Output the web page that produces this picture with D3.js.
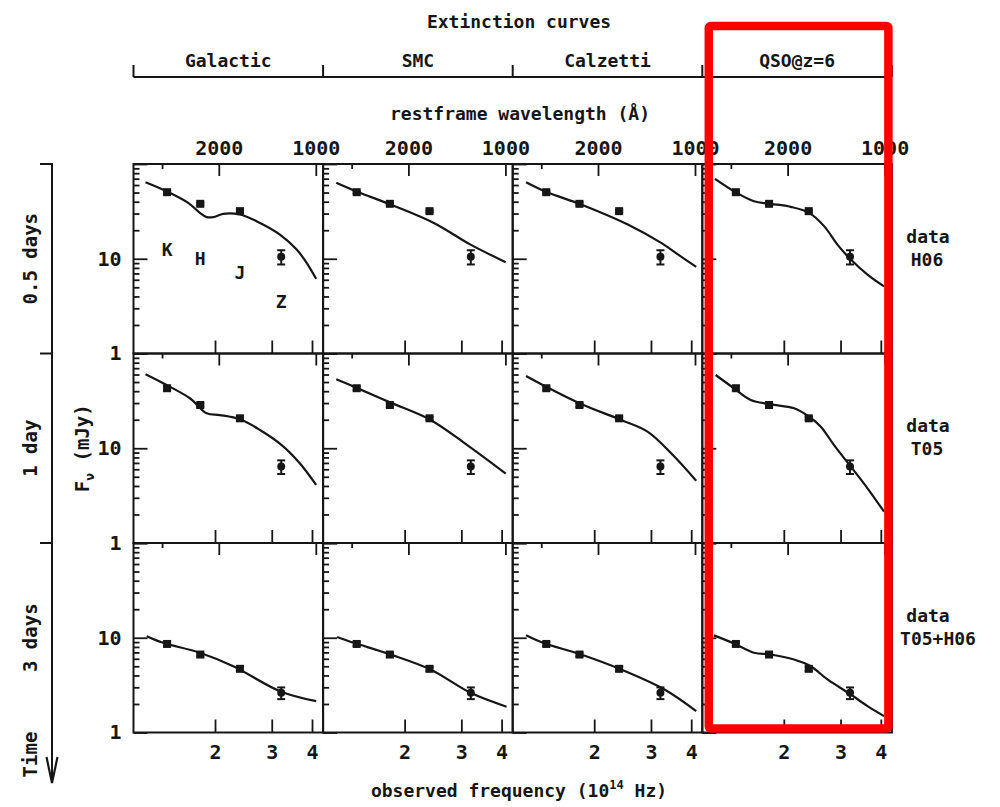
<!DOCTYPE html>
<html>
<head>
<meta charset="utf-8">
<script src="https://cdn.jsdelivr.net/npm/d3@7"></script>
<style>
  body { margin: 0; background: #fff; }
  svg text { font-family: 'DejaVu Sans Mono', monospace; font-weight: bold; fill: #161616; }
  .label { font-size: 18px; }
  .tick text { font-size: 20px; }
  .axis line { stroke: #161616; stroke-width: 1.8px; }
  .axis .domain { display: none; }
</style>
</head>
<body>
<div id="chart"></div>
<script>
// columns / rows of the grid
const extinctionLaws = ['Galactic', 'SMC', 'Calzetti', 'QSO@z=6'];
const epochs = ['0.5 days', '1 day', '3 days'];
const dataSets = ['H06', 'T05', 'T05+H06'];

// photometry (observed frequency in 1e14 Hz, flux in mJy)
const bands = ['K', 'H', 'J', 'Z'];
const bandFreq = [1.42, 1.80, 2.39, 3.21];
const bandLabelFlux = [12, 9.6, 6.9, 3.4];
const fluxH06 = [50.4, 38, 31.8, 10.5];
const errH06 = [1.5, 1.2, 1.0, 1.8];
const fluxT05 = [43, 28.6, 20.7, 6.4];
const errT05 = [2.0, 1.2, 0.8, 1.05];
const fluxT05H06 = [8.6, 6.65, 4.7, 2.62];
const errT05H06 = [0.4, 0.3, 0.25, 0.37];

// model curves [freq, flux]
const galactic05 = [[1.217, 64.3], [1.415, 51.6], [1.651, 38.9], [1.795, 30.5], [1.884, 27.5], [1.975, 27.5], [2.121, 29.8], [2.39, 29.3], [2.69, 24.9], [3.18, 18.0], [3.585, 12.5], [3.85, 9.06], [4.12, 6.14]];
const smc05 = [[1.227, 63.4], [1.426, 50.9], [1.809, 37.4], [2.464, 23.9], [3.204, 14.1], [4.12, 9.2]];
const calzetti05 = [[1.229, 64.3], [1.418, 50.9], [1.821, 37.4], [2.543, 23.0], [3.228, 14.7], [3.637, 11.1], [4.145, 8.2]];
const qso05 = [[1.223, 69.8], [1.418, 50.4], [1.616, 40.5], [1.821, 38.0], [2.101, 35.3], [2.396, 30.5], [2.667, 22.1], [2.934, 14.1], [3.228, 9.8], [3.637, 6.8], [4.095, 5.1]];

const galactic1 = [[1.217, 60.3], [1.381, 48.5], [1.671, 33.7], [1.884, 23.4], [2.071, 22.4], [2.39, 20.2], [2.758, 15.6], [3.221, 10.8], [3.671, 6.9], [4.12, 4.1]];
const smc1 = [[1.227, 53.4], [1.391, 44.7], [1.809, 30.3], [2.407, 19.9], [3.13, 10.8], [4.12, 5.4]];
const calzetti1 = [[1.229, 57.9], [1.385, 46.5], [1.821, 29.3], [2.424, 19.9], [2.934, 14.9], [3.466, 8.85], [4.145, 4.55]];
const qso1 = [[1.229, 59.3], [1.401, 42.9], [1.579, 32.3], [1.821, 29.1], [2.152, 26.4], [2.396, 21.5], [2.605, 16.9], [2.864, 10.8], [3.228, 6.4], [3.637, 3.78], [4.095, 2.14]];

const galactic3 = [[1.227, 10.4], [1.381, 8.85], [1.795, 6.94], [2.278, 5.0], [3.18, 2.73], [4.12, 2.14]];
const smc3 = [[1.235, 10.2], [1.391, 8.85], [1.809, 6.65], [2.407, 4.62], [3.204, 2.62], [4.145, 1.87]];
const calzetti3 = [[1.229, 10.6], [1.385, 8.85], [1.821, 6.65], [2.424, 4.62], [3.305, 2.84], [4.145, 1.68]];
const qso3 = [[1.214, 10.6], [1.401, 8.7], [1.616, 6.94], [1.821, 6.65], [2.152, 5.89], [2.424, 5.0], [2.733, 3.63], [3.228, 2.52], [3.637, 1.90], [4.095, 1.49]];

// axes
const freqTicks = [2, 3, 4];
const majorFlux = [1, 10, 100];
const minorFlux = [2, 3, 4, 5, 6, 7, 8, 9, 20, 30, 40, 50, 60, 70, 80, 90];
const waveTicks = [3000, 2000, 1000];
const waveLabels = [2000, 1000];
const redshift = 6.3;

const fluxByEpoch = [fluxH06, fluxT05, fluxT05H06];
const errByEpoch = [errH06, errT05, errT05H06];
const models = [
  [galactic05, smc05, calzetti05, qso05],
  [galactic1, smc1, calzetti1, qso1],
  [galactic3, smc3, calzetti3, qso3],
];

const width = 1000;
const height = 807;
const margin = { left: 133.5, top: 164 };
const panelW = 189.6;
const panelH = 189.5;
const ink = '#161616';

// restframe wavelength (A) -> observed frequency (1e14 Hz)
const toFreq = (lambda) => 3e4 / (lambda * (1 + redshift));
const toWave = (nu) => Math.round(3e4 / (nu * (1 + redshift)) / 100) * 100;

const svg = d3
  .select('#chart')
  .append('svg')
  .attr('width', width)
  .attr('height', height);

const x = d3.scaleLog().domain([1.117, 4.33]).range([0, panelW]);
const y = d3.scaleLog().domain([1, 100]).range([panelH, 0]);
const line = d3
  .line()
  .x((d) => x(d[0]))
  .y((d) => y(d[1]))
  .curve(d3.curveCatmullRom.alpha(0.5));

epochs.forEach((epoch, r) => {
  extinctionLaws.forEach((law, c) => {
    const g = svg
      .append('g')
      .attr('transform', `translate(${margin.left + c * panelW},${margin.top + r * panelH})`);
    const clipId = `clip-${r}-${c}`;
    g.append('clipPath').attr('id', clipId).append('rect').attr('width', panelW).attr('height', panelH);

    g.append('g')
      .attr('class', 'axis')
      .call(d3.axisLeft(y).tickValues(minorFlux).tickSize(-6).tickSizeOuter(0).tickFormat(''));

    g.append('g')
      .attr('class', 'axis')
      .call(
        d3.axisLeft(y)
          .tickValues(majorFlux)
          .tickSize(-14)
          .tickSizeOuter(0)
          .tickPadding(12)
          .tickFormat((d) => (c === 0 && d < 100 ? d : ''))
      );

    g.append('g')
      .attr('class', 'axis')
      .attr('transform', `translate(0,${panelH})`)
      .call(
        d3.axisBottom(x)
          .tickValues(freqTicks)
          .tickSize(-13)
          .tickSizeOuter(0)
          .tickPadding(12)
          .tickFormat((d) => (r === epochs.length - 1 ? d : ''))
      );

    const top = g
      .append('g')
      .attr('class', 'axis')
      .call(
        d3.axisTop(x)
          .tickValues(waveTicks.map(toFreq))
          .tickSize(-12)
          .tickSizeOuter(0)
          .tickPadding(9)
          .tickFormat((d) => (r === 0 && waveLabels.includes(toWave(d)) ? toWave(d) : ''))
      );
    top.selectAll('.tick line').attr('y2', (d) => (toWave(d) === 3000 ? 5 : 12));

    g.append('rect')
      .attr('width', panelW)
      .attr('height', panelH)
      .attr('fill', 'none')
      .attr('stroke', ink)
      .attr('stroke-width', 2);

    g.append('path')
      .datum(models[r][c])
      .attr('clip-path', `url(#${clipId})`)
      .attr('fill', 'none')
      .attr('stroke', ink)
      .attr('stroke-width', 2.2)
      .attr('d', line);

    const flux = fluxByEpoch[r];
    const err = errByEpoch[r];
    const pts = g.append('g');
    bands.forEach((b, i) => {
      const px = x(bandFreq[i]);
      const yl = y(flux[i] - err[i]);
      const yh = y(flux[i] + err[i]);
      pts.append('line').attr('x1', px).attr('x2', px).attr('y1', yl).attr('y2', yh)
        .attr('stroke', ink).attr('stroke-width', 2);
      [yl, yh].forEach((yy) => {
        pts.append('line').attr('x1', px - 4).attr('x2', px + 4).attr('y1', yy).attr('y2', yy)
          .attr('stroke', ink).attr('stroke-width', 2);
      });
      if (b === 'Z') {
        pts.append('circle').attr('cx', px).attr('cy', y(flux[i])).attr('r', 4).attr('fill', ink);
      } else {
        pts.append('rect')
          .attr('x', px - 4)
          .attr('y', y(flux[i]) - 4)
          .attr('width', 8)
          .attr('height', 8)
          .attr('fill', ink);
      }
      if (r === 0 && c === 0) {
        g.append('text')
          .attr('class', 'label')
          .attr('x', px)
          .attr('y', y(bandLabelFlux[i]))
          .attr('text-anchor', 'middle')
          .attr('dominant-baseline', 'middle')
          .text(b);
      }
    });
  });

  // data set label on the right
  const cy = margin.top + (r + 0.5) * panelH;
  svg.append('text').attr('class', 'label').attr('x', 928).attr('y', cy - 21)
    .attr('text-anchor', 'middle').attr('dominant-baseline', 'middle').text('data');
  svg.append('text').attr('class', 'label').attr('x', r === 2 ? 938 : 927).attr('y', cy + 2)
    .attr('text-anchor', 'middle').attr('dominant-baseline', 'middle').text(dataSets[r]);

  // epoch label on the time axis
  svg.append('text')
    .attr('class', 'label')
    .attr('transform', `translate(37,${cy}) rotate(-90)`)
    .attr('text-anchor', 'middle')
    .style('font-size', '19px')
    .text(epoch);
});

// extinction curve header
const right = margin.left + extinctionLaws.length * panelW;
svg.append('text').attr('class', 'label').attr('x', 519).attr('y', 28)
  .attr('text-anchor', 'middle').text('Extinction curves');
svg.append('line').attr('x1', margin.left).attr('x2', right).attr('y1', 77).attr('y2', 77)
  .attr('stroke', ink).attr('stroke-width', 2);
d3.range(extinctionLaws.length + 1).forEach((i) => {
  const xx = margin.left + i * panelW;
  svg.append('line').attr('x1', xx).attr('x2', xx).attr('y1', 65).attr('y2', 77)
    .attr('stroke', ink).attr('stroke-width', 2);
});
extinctionLaws.forEach((law, c) => {
  svg.append('text').attr('class', 'label')
    .attr('x', margin.left + (c + 0.5) * panelW)
    .attr('y', 67)
    .attr('text-anchor', 'middle')
    .text(law);
});

svg.append('text').attr('class', 'label').attr('x', 520).attr('y', 120)
  .attr('text-anchor', 'middle').text('restframe wavelength (Å)');

// x title
const xt = svg.append('text').attr('class', 'label').attr('x', 519).attr('y', 797)
  .attr('text-anchor', 'middle');
xt.append('tspan').text('observed frequency (10');
xt.append('tspan').attr('dy', -8).style('font-size', '12px').text('14');
xt.append('tspan').attr('dy', 8).text(' Hz)');

// y title
const yt = svg.append('text').attr('class', 'label')
  .attr('transform', `translate(89,${margin.top + 1.5 * panelH}) rotate(-90)`)
  .attr('text-anchor', 'middle')
  .style('font-size', '19px');
yt.append('tspan').text('F');
yt.append('tspan').attr('dy', 5).style('font-size', '13px').text('ν');
yt.append('tspan').attr('dy', -5).text(' (mJy)');

// time axis
const bottom = margin.top + epochs.length * panelH;
svg.append('line').attr('x1', 52).attr('x2', 52).attr('y1', margin.top - 1).attr('y2', 783)
  .attr('stroke', ink).attr('stroke-width', 2);
d3.range(epochs.length).forEach((i) => {
  const yy = margin.top + i * panelH;
  svg.append('line').attr('x1', 40).attr('x2', 52).attr('y1', yy).attr('y2', yy)
    .attr('stroke', ink).attr('stroke-width', 2);
});
svg.append('path').attr('d', 'M46.5,757L52,783L57.5,757').attr('fill', 'none')
  .attr('stroke', ink).attr('stroke-width', 2.2);
svg.append('text').attr('class', 'label')
  .attr('transform', `translate(37,${bottom + 22}) rotate(-90)`)
  .attr('text-anchor', 'middle').style('font-size', '19px').text('Time');

// red highlight around the QSO column
svg.append('rect')
  .attr('x', margin.left + 3 * panelW + 6.5)
  .attr('y', 26)
  .attr('width', panelW - 10)
  .attr('height', bottom - 4 - 26)
  .attr('rx', 2)
  .attr('fill', 'none')
  .attr('stroke', '#ff0000')
  .attr('stroke-width', 8.5);
</script>
</body>
</html>
